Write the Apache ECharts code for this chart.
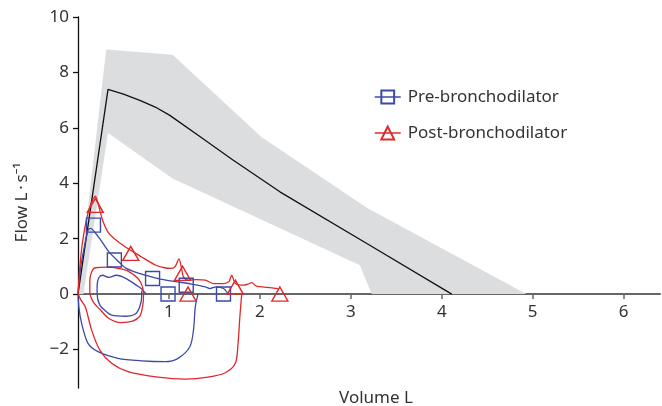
<!DOCTYPE html>
<html>
<head>
<meta charset="utf-8">
<script src="https://cdn.jsdelivr.net/npm/echarts@6/dist/echarts.min.js"></script>
<style>
  html, body { margin: 0; padding: 0; background: #fff; }
  #chart { width: 662px; height: 406px; }
</style>
</head>
<body>
<div id="chart"></div>
<script>
// predicted normal range (grey band), outline of the polygon
var bandX = [0, 0.31, 1.04, 2.02, 3.19, 4.93, 3.23, 3.10, 1.04, 0.33, 0.06];
var bandY = [0, 8.83, 8.64, 5.66, 3.09, 0, 0, 1.04, 4.17, 5.81, 0];

// predicted mean curve
var meanX = [0, 0.33, 0.5, 0.68, 0.85, 1.01, 1.34, 1.7, 2.22, 3.19, 4.11];
var meanY = [0, 7.39, 7.22, 6.99, 6.75, 6.45, 5.69, 4.85, 3.69, 1.8, 0];

// pre-bronchodilator loops
var preExpX = [0, 0.03, 0.07, 0.11, 0.14, 0.18, 0.25, 0.34, 0.45, 0.53, 0.74, 0.92, 1.10, 1.25, 1.40, 1.45, 1.52, 1.60, 1.65];
var preExpY = [0, 0.98, 1.7, 2.3, 2.37, 2.25, 1.95, 1.52, 1.16, 0.93, 0.68, 0.53, 0.44, 0.36, 0.26, 0.2, 0.26, 0.2, 0];
var preInsX = [0, 0.01, 0.04, 0.11, 0.22, 0.44, 0.70, 0.96, 1.10, 1.23, 1.27, 1.29, 1.32];
var preInsY = [0, -0.5, -1.06, -1.78, -2.08, -2.32, -2.41, -2.44, -2.32, -1.9, -1.3, -0.46, 0];
var preTidX = [0.75, 0.7, 0.66, 0.53, 0.42, 0.34, 0.27, 0.23, 0.21, 0.21, 0.24, 0.3, 0.37, 0.52, 0.63, 0.68, 0.7, 0.7];
var preTidY = [0, 0.18, 0.28, 0.56, 0.68, 0.6, 0.68, 0.6, 0.3, 0, -0.4, -0.6, -0.76, -0.8, -0.72, -0.45, -0.1, 0.12];
var preMarkX = [0.17, 0.40, 0.82, 0.99, 1.19, 1.60];
var preMarkY = [2.49, 1.23, 0.56, 0, 0.32, 0];

// post-bronchodilator loops
var postExpX = [0, 0.03, 0.07, 0.12, 0.19, 0.23, 0.27, 0.34, 0.49, 0.70, 0.85, 0.95, 1.03, 1.07, 1.11, 1.14, 1.16, 1.21, 1.30, 1.40, 1.49, 1.60, 1.66, 1.69, 1.73, 1.82, 1.87, 1.91, 1.96, 2.05, 2.2];
var postExpY = [0, 1.34, 2.3, 3.03, 3.53, 3.15, 2.67, 2.19, 1.77, 1.34, 1.05, 0.95, 0.93, 1.0, 1.27, 0.9, 0.62, 0.5, 0.52, 0.5, 0.38, 0.38, 0.45, 0.68, 0.38, 0.32, 0.36, 0.41, 0.29, 0.25, 0.2];
var postInsX = [0, 0.03, 0.08, 0.15, 0.24, 0.37, 0.55, 0.88, 1.18, 1.43, 1.62, 1.73, 1.76, 1.78, 1.80];
var postInsY = [0, -0.2, -0.46, -1.3, -2.02, -2.5, -2.8, -3.0, -3.07, -3.0, -2.84, -2.5, -1.78, -0.82, 0];
var postTidX = [0.13, 0.13, 0.15, 0.19, 0.33, 0.45, 0.55, 0.66, 0.71, 0.72, 0.71, 0.68, 0.6, 0.47, 0.34, 0.24, 0.17, 0.13];
var postTidY = [0, 0.5, 0.8, 0.95, 0.97, 0.92, 0.83, 0.56, 0.25, -0.1, -0.45, -0.8, -0.98, -1.03, -0.88, -0.55, -0.3, 0];
var postMarkX = [0.19, 0.58, 1.15, 1.21, 1.73, 2.22];
var postMarkY = [3.2, 1.47, 0.75, 0, 0.25, 0];

var xTicks = [1, 2, 3, 4, 5, 6];
var yTicks = [-2, 0, 2, 4, 6, 8, 10];

var BLUE = '#3b4aa8';
var RED = '#e0282a';
var FONT = 'Noto Sans';

function pairs(xs, ys) {
    return xs.map(function (x, i) { return [x, ys[i]]; });
}

function curve(name, xs, ys, color) {
    return {
        name: name,
        type: 'line',
        data: pairs(xs, ys),
        symbol: 'none',
        smooth: 0.3,
        lineStyle: { color: color, width: 1.3 },
        z: 3
    };
}

function markers(name, xs, ys, color, symbol, size) {
    return {
        name: name,
        type: 'line',
        data: pairs(xs, ys),
        symbol: symbol,
        symbolSize: size,
        showSymbol: true,
        lineStyle: { color: color, opacity: 0 },
        itemStyle: { color: 'rgba(0,0,0,0)', borderColor: color, borderWidth: 1.4 },
        z: 4
    };
}

var myChart = echarts.init(document.getElementById('chart'));

var option = {
    backgroundColor: '#fff',
    animation: false,
    textStyle: { fontFamily: FONT },
    grid: { left: 78, right: 2, top: 17, bottom: 18, containLabel: false, outerBoundsMode: 'none' },
    legend: {
        orient: 'vertical',
        left: 369,
        top: 82,
        itemWidth: 26,
        itemHeight: 16,
        itemGap: 16,
        textStyle: { fontFamily: FONT, fontSize: 17, color: '#333', lineHeight: 20, padding: [0, 0, 0, 2] },
        data: [
            { name: 'Pre-bronchodilator', lineStyle: { opacity: 1, color: BLUE, width: 1.5 } },
            { name: 'Post-bronchodilator', lineStyle: { opacity: 1, color: RED, width: 1.5 } }
        ]
    },
    xAxis: {
        type: 'value',
        min: 0,
        max: 6.4,
        // axis sits on flow = 0, i.e. 94 px above the bottom of the grid
        offset: -94,
        name: 'Volume L',
        nameLocation: 'middle',
        nameGap: 96,
        nameTextStyle: { fontFamily: FONT, fontSize: 17, color: '#333', padding: [0, 0, 0, 14] },
        axisLine: { onZero: false, lineStyle: { color: '#666', width: 2 } },
        axisTick: { customValues: xTicks, length: 5, lineStyle: { color: '#666', width: 1.5 } },
        axisLabel: { customValues: xTicks, fontFamily: FONT, fontSize: 17, color: '#333', margin: 10 },
        splitLine: { show: false }
    },
    yAxis: {
        type: 'value',
        min: -3.39,
        max: 10,
        name: 'Flow L\u2009\u00b7\u2009s\u207b\u00b9',
        nameLocation: 'middle',
        nameRotate: 90,
        nameGap: 47,
        nameTextStyle: { fontFamily: FONT, fontSize: 17, color: '#333' },
        axisLine: { onZero: false, lineStyle: { color: '#111', width: 1.3 } },
        axisTick: { customValues: yTicks, length: 5, lineStyle: { color: '#111', width: 1.3 } },
        axisLabel: {
            customValues: yTicks,
            fontFamily: FONT,
            fontSize: 17,
            color: '#333',
            margin: 9,
            formatter: function (v) { return v < 0 ? '\u2212' + Math.abs(v) : String(v); }
        },
        splitLine: { show: false }
    },
    series: [
        {
            name: 'band',
            type: 'custom',
            silent: true,
            data: [[0, 0]],
            encode: { x: 0, y: 1 },
            z: 1,
            renderItem: function (params, api) {
                var pts = bandX.map(function (x, i) { return api.coord([x, bandY[i]]); });
                return { type: 'polygon', shape: { points: pts }, style: { fill: '#dcdddf' } };
            }
        },
        {
            name: 'mean',
            type: 'line',
            data: pairs(meanX, meanY),
            symbol: 'none',
            lineStyle: { color: '#111', width: 1.3 },
            z: 2
        },
        curve('pre-exp', preExpX, preExpY, BLUE),
        curve('pre-ins', preInsX, preInsY, BLUE),
        curve('pre-tid', preTidX, preTidY, BLUE),
        curve('post-exp', postExpX, postExpY, RED),
        curve('post-ins', postInsX, postInsY, RED),
        curve('post-tid', postTidX, postTidY, RED),
        markers('Pre-bronchodilator', preMarkX, preMarkY, BLUE, 'rect', 14),
        markers('Post-bronchodilator', postMarkX, postMarkY, RED, 'triangle', [16, 14])
    ]
};

myChart.setOption(option);
</script>
</body>
</html>
